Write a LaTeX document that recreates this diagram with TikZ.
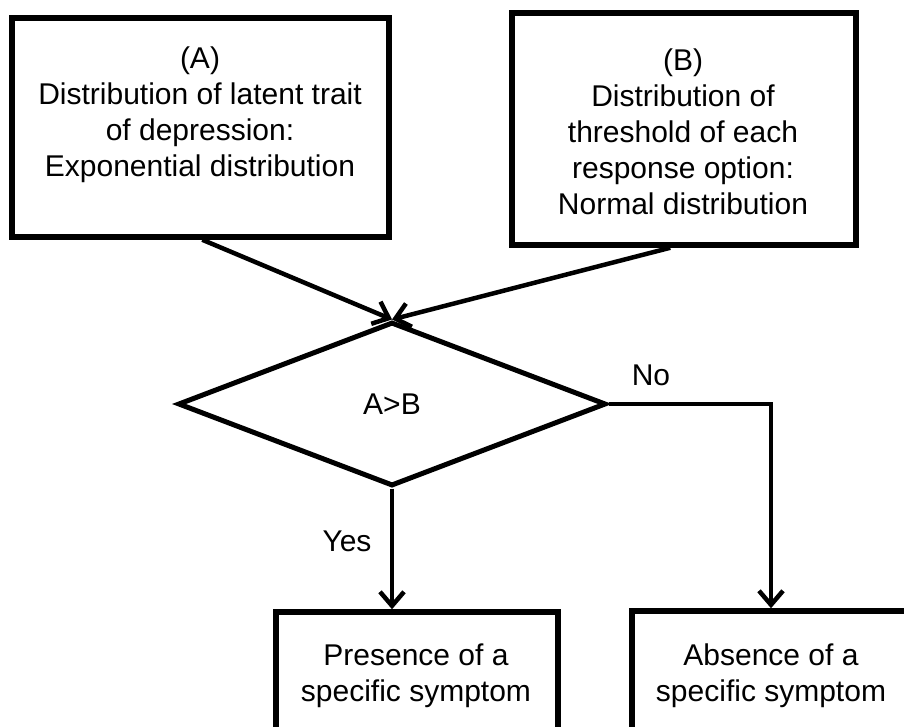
\documentclass[tikz,border=0pt]{standalone}
\usepackage{fontspec}
\setmainfont{Liberation Sans}
\usetikzlibrary{arrows.meta,shapes.geometric}
\begin{document}
\begin{tikzpicture}[x=1pt,y=-1pt,
  boxst/.style={draw, line width=5.5pt, inner sep=0pt},
  txt/.style={align=center, font=\fontsize{30}{36}\selectfont, inner sep=0pt},
  conn/.style={line width=4.5pt, -{Straight Barb[length=14pt,width=24pt]}},
  lbl/.style={font=\fontsize{30}{36}\selectfont, inner sep=0pt}]
\useasboundingbox (0,0) rectangle (904,727);
\fill[white] (0,0) rectangle (904,727);
\clip (0,0) rectangle (904,727);
% boxes
\node[boxst, minimum width=377pt, minimum height=219pt] (A) at (200.5,127.5) {};
\node[txt] (tA) at (200,115) {(A)\\Distribution of latent trait\\of depression:\\Exponential distribution};
\node[boxst, minimum width=344pt, minimum height=232pt] (B) at (684,129) {};
\node[txt] (tB) at (683,132) {(B)\\Distribution of\\threshold of each\\response option:\\Normal distribution};
\node[draw, diamond, line width=5pt, minimum width=428pt, minimum height=164pt, inner sep=0pt, font=\fontsize{30}{36}\selectfont] (D) at (392,404) {A>B};
\node[boxst, minimum width=282pt, minimum height=160pt] (P) at (417,692) {};
\node[txt] (tP) at (416,676) {Presence of a\\specific symptom};
\node[boxst, minimum width=278pt, minimum height=160pt] (Ab) at (771,691) {};
\node[txt] (tAb) at (771,676) {Absence of a\\specific symptom};
% connectors
\path (A.south west) ++(193,0) coordinate (a1);
\path (B.south west) ++(161,0) coordinate (b1);
\draw[conn] (a1) -- (D.north);
\draw[conn] (b1) -- (D.north);
\draw[conn] (D.south) -- (D.south |- P.north);
\draw[conn] (D.east) -| (Ab.north);
\node[lbl] (yes) at (347,541) {Yes};
\node[lbl] (no) at (651,375) {No};
\end{tikzpicture}
\end{document}
